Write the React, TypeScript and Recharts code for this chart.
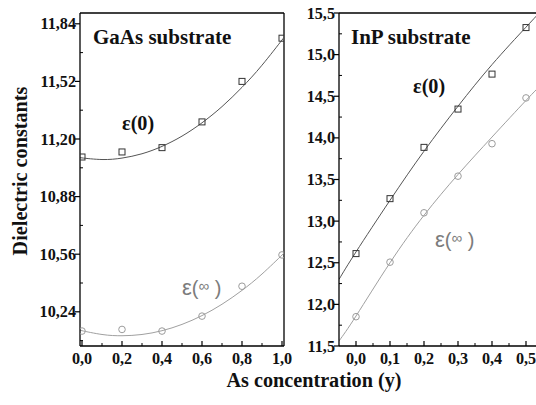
import { ComposedChart, Line, Scatter, XAxis, YAxis, ReferenceLine } from 'recharts';

// GaAs substrate: measured points
const gaasConc = [0, 0.2, 0.4, 0.6, 0.8, 1.0];
const gaasEps0 = [11.1, 11.128, 11.152, 11.295, 11.52, 11.76];
const gaasEpsInf = [10.133, 10.142, 10.133, 10.216, 10.382, 10.556];

// GaAs substrate: fitted curves
const gaasFitConc = [-0.01, 0, 0.1, 0.2, 0.3, 0.4, 0.5, 0.6, 0.7, 0.8, 0.9, 1.0, 1.01];
const gaasFitEps0 = [11.097, 11.095, 11.086, 11.094, 11.118, 11.159, 11.216, 11.29, 11.38, 11.487, 11.61, 11.75, 11.764];
const gaasFitEpsInf = [10.138, 10.135, 10.114, 10.107, 10.114, 10.135, 10.17, 10.219, 10.282, 10.359, 10.45, 10.555, 10.566];

// InP substrate: measured points
const inpConc = [0, 0.1, 0.2, 0.3, 0.4, 0.5];
const inpEps0 = [12.61, 13.27, 13.886, 14.346, 14.766, 15.325];
const inpEpsInf = [11.852, 12.507, 13.1, 13.54, 13.93, 14.48];

// InP substrate: fitted curves
const inpFitConc = [-0.05, 0, 0.1, 0.2, 0.3, 0.4, 0.5, 0.55];
const inpFitEps0 = [12.3, 12.63, 13.25, 13.84, 14.38, 14.88, 15.33, 15.55];
const inpFitEpsInf = [11.56, 11.86, 12.5, 13.07, 13.56, 14.01, 14.45, 14.66];

// axis ticks
const gaasXMajor = [0, 0.2, 0.4, 0.6, 0.8, 1.0];
const gaasXMinor = [0.1, 0.3, 0.5, 0.7, 0.9];
const gaasYMajor = [10.24, 10.56, 10.88, 11.2, 11.52, 11.84];
const gaasYMinor = [10.08, 10.4, 10.72, 11.04, 11.36, 11.68];
const inpXMajor = [0, 0.1, 0.2, 0.3, 0.4, 0.5];
const inpXMinor = [0.05, 0.15, 0.25, 0.35, 0.45];
const inpYMajor = [11.5, 12, 12.5, 13, 13.5, 14, 14.5, 15, 15.5];
const inpYMinor = [11.75, 12.25, 12.75, 13.25, 13.75, 14.25, 14.75, 15.25];

const SERIF = 'Liberation Serif';
const axisStroke = { stroke: '#000', strokeWidth: 1.3 };

const pts = (xs: number[], ys: number[]) => xs.map((x, i) => ({ x, y: ys[i] }));
const fmt = (v: number, digits: number) => v.toFixed(digits).replace('.', ',');

// bold serif text with the font set as presentation attributes
const Label = ({ size = 16.2, children, ...rest }: any) => (
  <text fontFamily={SERIF} fontWeight={700} fontSize={size} fill="#111" {...rest}>
    {children}
  </text>
);

function makeYTick(minor: number[], digits: number) {
  return (props: any) => {
    const { x, y, payload } = props;
    const v = payload.value;
    if (minor.includes(v)) {
      return <line x1={x} x2={x + 3} y1={y} y2={y} stroke="#000" strokeWidth={1} />;
    }
    return (
      <g>
        <line x1={x - 5} x2={x} y1={y} y2={y} stroke="#000" strokeWidth={1.2} />
        <Label x={x - 4} y={y + 5.5} textAnchor="end">
          {fmt(v, digits)}
        </Label>
      </g>
    );
  };
}

function makeXTick(minor: number[]) {
  return (props: any) => {
    const { x, y, payload } = props;
    const v = payload.value;
    if (minor.includes(v)) {
      return <line x1={x} x2={x} y1={y} y2={y - 3} stroke="#000" strokeWidth={1} />;
    }
    return (
      <g>
        <line x1={x} x2={x} y1={y} y2={y - 5} stroke="#000" strokeWidth={1.2} />
        <Label x={x} y={y + 18} textAnchor="middle">
          {fmt(v, 1)}
        </Label>
      </g>
    );
  };
}

const SquareMark = (p: any) => (
  <rect x={p.cx - 3} y={p.cy - 3} width={6} height={6} fill="none" stroke="#333" strokeWidth={1} />
);
const CircleMark = (p: any) => (
  <circle cx={p.cx} cy={p.cy} r={3.3} fill="none" stroke="#9c9c9c" strokeWidth={1} />
);

const EpsInfLabel = ({ x, y }: { x: number; y: number }) => (
  <text x={x} y={y} fill="#7c7c7c" fontFamily="Liberation Sans" fontSize={20}>
    <tspan fontSize={22}>ε</tspan>
    <tspan>(</tspan>
    <tspan fontSize={15} dy={-4}>∞</tspan>
    <tspan dy={4}> )</tspan>
  </text>
);

export default function App() {
  return (
    <div style={{ position: 'fixed', left: 0, top: 0, width: 536, height: 405, overflow: 'hidden', background: '#fff' }}>
      <div style={{ position: 'absolute', left: 0, top: 0 }}>
        <ComposedChart width={300} height={405} margin={{ top: 13, right: 16, bottom: 0, left: 0 }}>
          <XAxis
            type="number"
            dataKey="x"
            domain={[-0.01, 1.01]}
            ticks={[...gaasXMajor, ...gaasXMinor]}
            interval={0}
            tickSize={0}
            tickMargin={0}
            tickLine={false}
            tick={makeXTick(gaasXMinor)}
            height={59}
            axisLine={axisStroke}
            allowDataOverflow
          />
          <YAxis
            type="number"
            dataKey="y"
            domain={[10.05, 11.9]}
            ticks={[...gaasYMajor, ...gaasYMinor]}
            interval={0}
            tickSize={0}
            tickMargin={0}
            tickLine={false}
            tick={makeYTick(gaasYMinor, 2)}
            width={80}
            axisLine={axisStroke}
            allowDataOverflow
          />
          <ReferenceLine y={11.9} {...axisStroke} />
          <ReferenceLine x={1.01} {...axisStroke} />
          <Line data={pts(gaasFitConc, gaasFitEps0)} dataKey="y" type="natural" stroke="#555" strokeWidth={1} dot={false} isAnimationActive={false} />
          <Line data={pts(gaasFitConc, gaasFitEpsInf)} dataKey="y" type="natural" stroke="#a0a0a0" strokeWidth={1} dot={false} isAnimationActive={false} />
          <Scatter data={pts(gaasConc, gaasEps0)} dataKey="y" shape={SquareMark} isAnimationActive={false} />
          <Scatter data={pts(gaasConc, gaasEpsInf)} dataKey="y" shape={CircleMark} isAnimationActive={false} />
        </ComposedChart>
      </div>

      <div style={{ position: 'absolute', left: 290, top: 0 }}>
        <ComposedChart width={260} height={405} margin={{ top: 13, right: 7, bottom: 0, left: 0 }}>
          <XAxis
            type="number"
            dataKey="x"
            domain={[-0.05, 0.55]}
            ticks={[...inpXMajor, ...inpXMinor]}
            interval={0}
            tickSize={0}
            tickMargin={0}
            tickLine={false}
            tick={makeXTick(inpXMinor)}
            height={59}
            axisLine={axisStroke}
            allowDataOverflow
          />
          <YAxis
            type="number"
            dataKey="y"
            domain={[11.5, 15.5]}
            ticks={[...inpYMajor, ...inpYMinor]}
            interval={0}
            tickSize={0}
            tickMargin={0}
            tickLine={false}
            tick={makeYTick(inpYMinor, 1)}
            width={49}
            axisLine={axisStroke}
            allowDataOverflow
          />
          <ReferenceLine y={15.5} {...axisStroke} />
          <Line data={pts(inpFitConc, inpFitEps0)} dataKey="y" type="natural" stroke="#555" strokeWidth={1} dot={false} isAnimationActive={false} />
          <Line data={pts(inpFitConc, inpFitEpsInf)} dataKey="y" type="natural" stroke="#a0a0a0" strokeWidth={1} dot={false} isAnimationActive={false} />
          <Scatter data={pts(inpConc, inpEps0)} dataKey="y" shape={SquareMark} isAnimationActive={false} />
          <Scatter data={pts(inpConc, inpEpsInf)} dataKey="y" shape={CircleMark} isAnimationActive={false} />
        </ComposedChart>
      </div>

      {/* titles and series labels */}
      <svg width={536} height={405} style={{ position: 'absolute', left: 0, top: 0, pointerEvents: 'none' }}>
        <Label x={93} y={44} size={21}>GaAs substrate</Label>
        <Label x={351} y={44} size={21}>InP substrate</Label>
        <Label x={122} y={130} size={20.2}>ε(0)</Label>
        <Label x={413} y={93} size={20.2}>ε(0)</Label>
        <Label x={314} y={387} size={20.2} textAnchor="middle">As concentration (y)</Label>
        <Label x={27} y={171} size={20.2} textAnchor="middle" transform="rotate(-90 27 171)">
          Dielectric constants
        </Label>
        <EpsInfLabel x={182} y={295} />
        <EpsInfLabel x={435} y={247} />
      </svg>
    </div>
  );
}
